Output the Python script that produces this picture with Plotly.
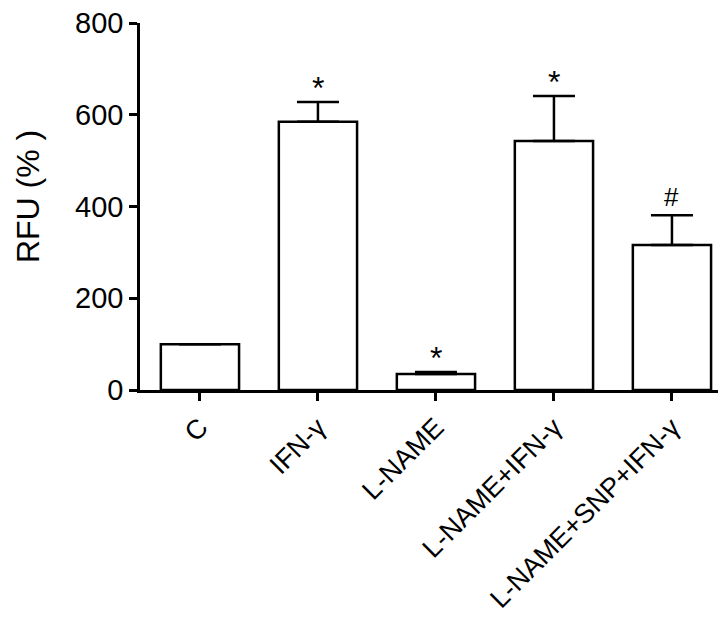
import plotly.graph_objects as go

categories = ["C", "IFN-γ", "L-NAME", "L-NAME+IFN-γ", "L-NAME+SNP+IFN-γ"]
values = [100, 585, 35, 543, 316]
errors = [0, 43, 4, 98, 65]
marks = ["", "*", "*", "*", "#"]
y_ticks = [0, 200, 400, 600, 800]

FONT = "Arial, 'Liberation Sans', sans-serif"

fig = go.Figure()
fig.add_trace(go.Bar(
    x=list(range(len(categories))),
    y=values,
    width=0.663,
    marker=dict(color="white", line=dict(color="black", width=2.5)),
    error_y=dict(type="data", array=errors, arrayminus=[0]*len(errors), symmetric=False,
                 color="black", thickness=2.5, width=21),
    showlegend=False,
))

for i, (m, v, e) in enumerate(zip(marks, values, errors)):
    if m:
        fig.add_annotation(x=i, y=v + e, xref="x", yref="y", text=m, showarrow=False,
                           yanchor="bottom", yshift=-6 if m == "*" else 1,
                           font=dict(family=FONT, size=32 if m == "*" else 26, color="black"))

fig.add_annotation(xref="paper", yref="paper", x=-0.191, y=0.526, text="RFU (% )",
                   textangle=-90, showarrow=False, xanchor="center", yanchor="middle",
                   font=dict(family=FONT, size=32, color="black"))

# page body has an 8px default margin, so the figure is 8px smaller and offset
fig.update_layout(
    width=718, height=615,
    margin=dict(l=132, r=0, t=15, b=233),
    paper_bgcolor="white", plot_bgcolor="white",
    font=dict(family=FONT, color="black"),
    xaxis=dict(
        range=[-0.508, 4.458], automargin=False, ticklabeloverflow="allow",
        tickmode="array", tickvals=list(range(len(categories))), ticktext=categories,
        tickangle=-45, tickfont=dict(size=27, family=FONT, color="black"),
        showline=True, linecolor="black", linewidth=2.5,
        ticks="outside", ticklen=8, tickwidth=2.5, tickcolor="black",
        showgrid=False, zeroline=False,
    ),
    yaxis=dict(
        range=[0, 800], tickmode="array", tickvals=y_ticks, automargin=False,
        ticklabeloverflow="allow",
        tickfont=dict(size=29, family=FONT, color="black"),
        showline=True, linecolor="black", linewidth=2.5,
        ticks="outside", ticklen=8, tickwidth=2.5, tickcolor="black",
        showgrid=False, zeroline=False,
    ),
)

fig.write_html("out.html")
